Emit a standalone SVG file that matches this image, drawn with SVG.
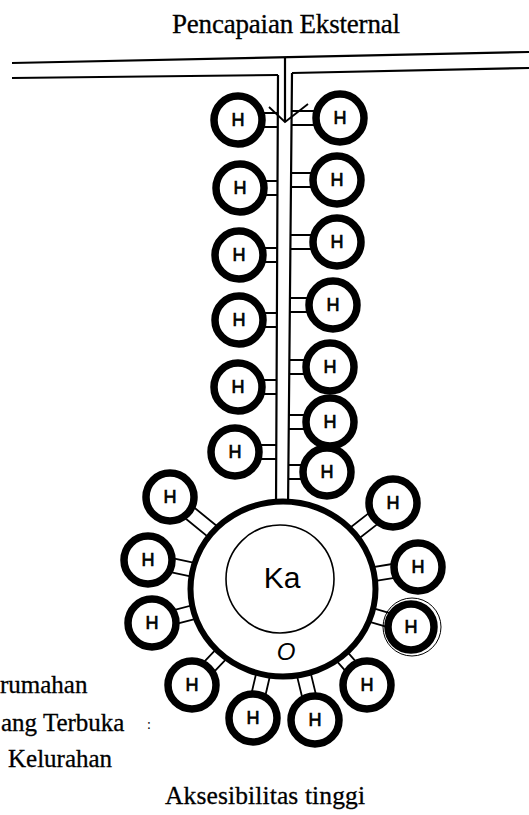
<svg xmlns="http://www.w3.org/2000/svg" width="529" height="815" viewBox="0 0 529 815">
<style>
.t{font-family:"Liberation Serif","Times New Roman",serif;fill:#000}
.h circle{fill:#fff;stroke:#000;stroke-width:7.5}
.h circle.ring{fill:none;stroke-width:1}
.h text{font-family:"Liberation Sans",Arial,sans-serif;font-size:18px;text-anchor:middle;dominant-baseline:central;fill:#000;stroke:#000;stroke-width:0.7}
.rd{stroke:#000;stroke-width:2.2;fill:none}
.rg{stroke:#000;stroke-width:1.8;fill:none}
</style>
<rect width="529" height="815" fill="#fff"/>
<text class="t" x="172" y="33" font-size="27" textLength="228" stroke="#000" stroke-width="0.3">Pencapaian Eksternal</text>
<text class="t" x="165" y="804" font-size="25.5" textLength="200" stroke="#000" stroke-width="0.3">Aksesibilitas tinggi</text>
<text class="t" x="0" y="693" font-size="25" stroke="#000" stroke-width="0.3">rumahan</text>
<text class="t" x="1" y="731" font-size="25" stroke="#000" stroke-width="0.3">ang Terbuka</text>
<text class="t" x="147" y="729" font-size="14" fill="#444">:</text>
<text class="t" x="8" y="767" font-size="25" stroke="#000" stroke-width="0.3">Kelurahan</text>

<g id="connectors">
  <path class="rd" stroke-width="3" d="M12 63 L529 52"/>
  <path class="rd" stroke-width="3" d="M12 78 L278 75 M292 73 L529 68"/>
  <path class="rd" d="M285 57 L285 122"/>
  <path class="rd" d="M278 75 L276 510 M292 73 L288 510"/>
  <path class="rg" d="M269 107 L285 122 L308 104"/>
  <path class="rg" d="M258 113H277M258 127H277 M260 181H277M260 195H277 M259 248H277M259 262H277 M259 313H277M259 327H277 M258 380H277M258 394H277 M255 445H276M255 459H276"/>
  <path class="rg" d="M291 111H320M291 125H320 M291 173H317M291 187H317 M291 235H317M291 249H317 M290 298H313M290 312H313 M290 360H310M290 374H310 M289 415H310M289 429H310 M289 465H307M289 479H307"/>
  <g transform="translate(283 589)">
    <path class="rg" transform="rotate(-140.8)" d="M80 -7H124M80 7H124"/>
    <path class="rg" transform="rotate(-167.9)" d="M80 -7H116M80 7H116"/>
    <path class="rg" transform="rotate(165.5)" d="M80 -7H113M80 7H113"/>
    <path class="rg" transform="rotate(133.5)" d="M80 -7H110M80 7H110"/>
    <path class="rg" transform="rotate(103.1)" d="M80 -7H110M80 7H110"/>
    <path class="rg" transform="rotate(76.3)" d="M80 -7H113M80 7H113"/>
    <path class="rg" transform="rotate(48.8)" d="M80 -7H106M80 7H106"/>
    <path class="rg" transform="rotate(16.4)" d="M80 -7H112M80 7H112"/>
    <path class="rg" transform="rotate(-9.3)" d="M80 -7H115M80 7H115"/>
    <path class="rg" transform="rotate(-38)" d="M80 -7H118M80 7H118"/>
  </g>
</g>

<g id="ka">
  <ellipse cx="283" cy="589" rx="92.5" ry="87.5" fill="#fff" stroke="#000" stroke-width="6"/>
  <circle cx="280" cy="579" r="54" fill="none" stroke="#000" stroke-width="1.6"/>
  <text x="282" y="588" font-family="Liberation Sans, Arial, sans-serif" font-size="30" text-anchor="middle">Ka</text>
  <text x="286" y="660" font-family="Liberation Sans, Arial, sans-serif" font-size="24" font-style="italic" text-anchor="middle">O</text>
</g>

<g id="h-l1" class="h"><circle cx="238" cy="120" r="24"/><text x="238" y="120">H</text></g>
<g id="h-l2" class="h"><circle cx="240" cy="188" r="24"/><text x="240" y="188">H</text></g>
<g id="h-l3" class="h"><circle cx="239" cy="255" r="24"/><text x="239" y="255">H</text></g>
<g id="h-l4" class="h"><circle cx="239" cy="320" r="24"/><text x="239" y="320">H</text></g>
<g id="h-l5" class="h"><circle cx="238" cy="387" r="24"/><text x="238" y="387">H</text></g>
<g id="h-l6" class="h"><circle cx="235" cy="452" r="24"/><text x="235" y="452">H</text></g>

<g id="h-r1" class="h"><circle cx="340" cy="118" r="24"/><text x="340" y="118">H</text></g>
<g id="h-r2" class="h"><circle cx="337" cy="180" r="24"/><text x="337" y="180">H</text></g>
<g id="h-r3" class="h"><circle cx="337" cy="242" r="24"/><text x="337" y="242">H</text></g>
<g id="h-r4" class="h"><circle cx="333" cy="305" r="24"/><text x="333" y="305">H</text></g>
<g id="h-r5" class="h"><circle cx="330" cy="367" r="24"/><text x="330" y="367">H</text></g>
<g id="h-r6" class="h"><circle cx="330" cy="422" r="24"/><text x="330" y="422">H</text></g>
<g id="h-r7" class="h"><circle cx="327" cy="472" r="24"/><text x="327" y="472">H</text></g>

<g id="h-c1" class="h"><circle cx="170" cy="497" r="24"/><text x="170" y="497">H</text></g>
<g id="h-c2" class="h"><circle cx="148" cy="560" r="24"/><text x="148" y="560">H</text></g>
<g id="h-c3" class="h"><circle cx="152" cy="623" r="24"/><text x="152" y="623">H</text></g>
<g id="h-c4" class="h"><circle cx="192" cy="685" r="24"/><text x="192" y="685">H</text></g>
<g id="h-c5" class="h"><circle cx="253" cy="718" r="24"/><text x="253" y="718">H</text></g>
<g id="h-c6" class="h"><circle cx="315" cy="720" r="24"/><text x="315" y="720">H</text></g>
<g id="h-c7" class="h"><circle cx="367" cy="685" r="24"/><text x="367" y="685">H</text></g>
<g id="h-c8" class="h"><circle cx="411" cy="627" r="23"/><circle class="ring" cx="412" cy="627" r="29"/><text x="411" y="627">H</text></g>
<g id="h-c9" class="h"><circle cx="418" cy="567" r="24"/><text x="418" y="567">H</text></g>
<g id="h-c10" class="h"><circle cx="393" cy="503" r="24"/><text x="393" y="503">H</text></g>
</svg>
